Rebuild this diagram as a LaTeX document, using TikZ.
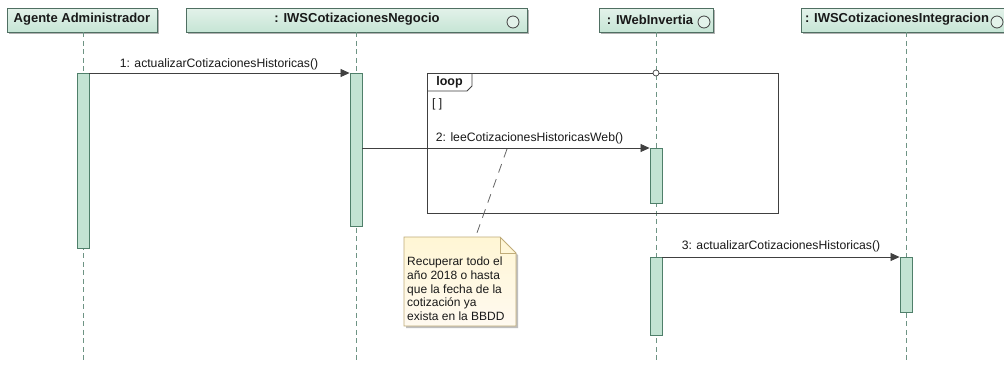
\documentclass[tikz,border=0pt]{standalone}
\usepackage{fontspec}
\setmainfont{Liberation Sans}
\usetikzlibrary{arrows.meta,calc}
\definecolor{hdrtop}{HTML}{E3F2EA}
\definecolor{hdrbot}{HTML}{C6E5D5}
\definecolor{hdrline}{HTML}{4F6F62}
\definecolor{actfill}{HTML}{C3E3D3}
\definecolor{actline}{HTML}{4F7F6A}
\definecolor{lifeline}{HTML}{6E9484}
\definecolor{notefill}{HTML}{FFF6D4}
\definecolor{noteline}{HTML}{C0AC78}
\definecolor{ink}{HTML}{404040}
\tikzset{
  hdr/.style={draw=hdrline, line width=0.9pt, top color=hdrtop, bottom color=hdrbot,
    minimum height=24pt, inner sep=0pt},
  hdrshadow/.style={fill=black!30},
  hdrtext/.style={font=\fontsize{13}{15}\selectfont\bfseries, text=black!90, inner sep=0pt},
  ifc/.style={circle, draw=ink, line width=0.8pt, fill=hdrtop, minimum size=12pt, inner sep=0pt},
  life/.style={draw=lifeline, line width=0.9pt, dash pattern=on 5pt off 3.5pt},
  act/.style={draw=actline, line width=0.9pt, fill=actfill, minimum width=12pt, inner sep=0pt},
  msg/.style={draw=ink, line width=0.8pt, -{Triangle[length=9pt,width=8pt]}},
  lbl/.style={font=\fontsize{12.2}{14}\selectfont, text=black!90, inner sep=0pt},
  frame/.style={draw=ink, line width=0.8pt},
}
\begin{document}
\begin{tikzpicture}[x=1pt,y=-1pt]
\path[use as bounding box, fill=white] (0,0) rectangle (1004,365);
\clip (0,0) rectangle (1004,365);

% lifeline heads (shadow first)
\fill[hdrshadow] (9,10) rectangle (159,34);
\fill[hdrshadow] (188,10) rectangle (529,34);
\fill[hdrshadow] (601,10) rectangle (715,34);
\fill[hdrshadow] (803,10) rectangle (1012,34);
\node[hdr, minimum width=150pt] (hA) at (82,20) {};
\node[hdr, minimum width=341pt] (hN) at (356.5,20) {};
\node[hdr, minimum width=114pt] (hW) at (656,20) {};
\node[hdr, minimum width=209pt] (hI) at (905.5,20) {};
\node[hdrtext] at (82,19.5) {Agente Administrador};
\node[hdrtext] at (357,19.5) {: IWSCotizacionesNegocio};
\node[hdrtext] at (650,19.5) {: IWebInvertia};
\node[hdrtext] at (897,19.5) {: IWSCotizacionesIntegracion};
\node[ifc] (cN) at (513,22) {};
\node[ifc] (cW) at (704,22) {};
\node[ifc] (cI) at (997,22) {};

% lifeline ends
\coordinate (eA) at (83,362);
\coordinate (eN) at (356,362);
\coordinate (eW) at (656,362);
\coordinate (eI) at (906,362);
\draw[life] (hA.south -| eA) -- (eA);
\draw[life] (hN.south -| eN) -- (eN);
\draw[life] (hW.south -| eW) -- (eW);
\draw[life] (hI.south -| eI) -- (eI);

% combined fragment: loop
\draw[frame] (427,73) rectangle (778,213);
\draw[frame] (427,91) -- (467,91) -- (472,86) -- (472,73);
\node[font=\fontsize{12.5}{14}\selectfont\bfseries, text=black!90, inner sep=0pt] (loopname) at (449.5,82.5) {loop};
\node[lbl, anchor=west] (guard) at (432,104.5) {[ ]};
\node[circle, draw=ink, fill=white, line width=0.7pt, minimum size=6pt, inner sep=0pt] (gate) at (656,73) {};

% activation bars
\node[act, anchor=north, minimum height=175pt] (aA) at (83,73) {};
\node[act, anchor=north, minimum height=153pt] (aN) at (356,73) {};
\node[act, anchor=north, minimum height=55pt] (aW1) at (656,148) {};
\node[act, anchor=north, minimum height=78pt] (aW2) at (656,257) {};
\node[act, anchor=north, minimum height=55pt] (aI) at (906,257) {};

% messages
\draw[msg] (aA.north east) -- (aN.north west);
\node[lbl] at (219,64.5) {1: actualizarCotizacionesHistoricas()};
\draw[msg] (aN.east |- aW1.north) -- (aW1.north west);
\node[lbl] at (529.5,138.5) {2: leeCotizacionesHistoricasWeb()};
\draw[msg] (aW2.north east) -- (aI.north west);
\node[lbl] at (781,246.5) {3: actualizarCotizacionesHistoricas()};

% note
\fill[black!25] (406,239) -- (502,239) -- (518,255) -- (518,328) -- (406,328) -- cycle;
\draw[draw=noteline, line width=0.8pt, top color=notefill, bottom color=notefill!85!orange!20] (404,237) -- (500,237) -- (516,253) -- (516,326) -- (404,326) -- cycle;
\draw[draw=noteline, line width=0.8pt] (500,237) -- (500,253) -- (516,253);
\node[font=\fontsize{12}{13.6}\selectfont, text=black!90, align=left, anchor=north west, inner sep=0pt] (note) at (407,257)
  {Recuperar todo el\\año 2018 o hasta\\que la fecha de la\\cotización ya\\exista en la BBDD};
\coordinate (noteTop) at (475.5,237);
\coordinate (anchorPt) at (507,149);
\draw[draw=ink!80, line width=0.8pt, dash pattern=on 9pt off 7pt] (anchorPt) -- (noteTop);
\end{tikzpicture}
\end{document}
